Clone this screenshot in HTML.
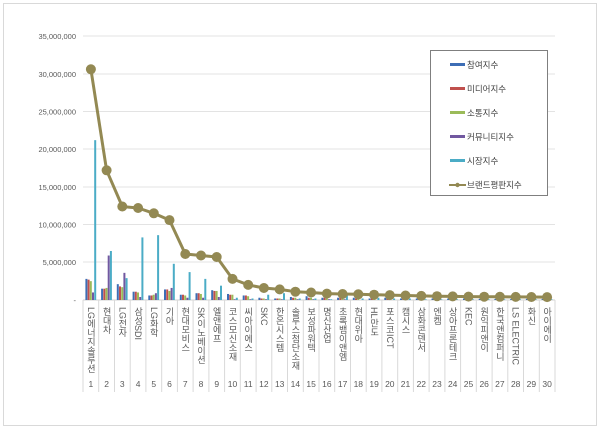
<!DOCTYPE html>
<html><head><meta charset="utf-8"><style>
body{margin:0;background:#fff;}
svg{display:block;font-family:"Liberation Sans","Noto Sans CJK KR",sans-serif;}
.yl{font-size:7.5px;fill:#595959;text-anchor:end;}
.cl{font-size:9px;fill:#595959;writing-mode:vertical-rl;}
.nl{font-size:8.5px;fill:#595959;text-anchor:middle;}
.lg{font-size:8.5px;fill:#404040;}
</style></head><body>
<svg width="600" height="429" viewBox="0 0 600 429">
<rect x="0" y="0" width="600" height="429" fill="#fff"/>
<rect x="3.5" y="3.5" width="593" height="422" fill="none" stroke="#d9d9d9"/>
<g stroke="#e3e3e3" stroke-width="1">
<line x1="83" x2="555" y1="36" y2="36"/><line x1="83" x2="555" y1="74" y2="74"/>
<line x1="83" x2="555" y1="111.5" y2="111.5"/><line x1="83" x2="555" y1="149" y2="149"/>
<line x1="83" x2="555" y1="187" y2="187"/><line x1="83" x2="555" y1="224.5" y2="224.5"/>
<line x1="83" x2="555" y1="262" y2="262"/>
</g>
<line x1="83" x2="555" y1="300" y2="300" stroke="#d0d0d0"/>
<g class="yl">
<text x="76" y="39">35,000,000</text><text x="76" y="77">30,000,000</text>
<text x="76" y="114.5">25,000,000</text><text x="76" y="152">20,000,000</text>
<text x="76" y="190">15,000,000</text><text x="76" y="227.5">10,000,000</text>
<text x="76" y="265">5,000,000</text><text x="76" y="303">-</text>
</g>
<g stroke="#d9d9d9">
<line x1="83" x2="83" y1="300" y2="392"/><line x1="98.7" x2="98.7" y1="300" y2="392"/><line x1="114.5" x2="114.5" y1="300" y2="392"/><line x1="130.2" x2="130.2" y1="300" y2="392"/><line x1="145.9" x2="145.9" y1="300" y2="392"/><line x1="161.7" x2="161.7" y1="300" y2="392"/><line x1="177.4" x2="177.4" y1="300" y2="392"/><line x1="193.1" x2="193.1" y1="300" y2="392"/><line x1="208.9" x2="208.9" y1="300" y2="392"/><line x1="224.6" x2="224.6" y1="300" y2="392"/><line x1="240.3" x2="240.3" y1="300" y2="392"/><line x1="256.1" x2="256.1" y1="300" y2="392"/><line x1="271.8" x2="271.8" y1="300" y2="392"/><line x1="287.5" x2="287.5" y1="300" y2="392"/><line x1="303.3" x2="303.3" y1="300" y2="392"/><line x1="319" x2="319" y1="300" y2="392"/><line x1="334.7" x2="334.7" y1="300" y2="392"/><line x1="350.5" x2="350.5" y1="300" y2="392"/><line x1="366.2" x2="366.2" y1="300" y2="392"/><line x1="381.9" x2="381.9" y1="300" y2="392"/><line x1="397.7" x2="397.7" y1="300" y2="392"/><line x1="413.4" x2="413.4" y1="300" y2="392"/><line x1="429.1" x2="429.1" y1="300" y2="392"/><line x1="444.9" x2="444.9" y1="300" y2="392"/><line x1="460.6" x2="460.6" y1="300" y2="392"/><line x1="476.3" x2="476.3" y1="300" y2="392"/><line x1="492.1" x2="492.1" y1="300" y2="392"/><line x1="507.8" x2="507.8" y1="300" y2="392"/><line x1="523.5" x2="523.5" y1="300" y2="392"/><line x1="539.3" x2="539.3" y1="300" y2="392"/><line x1="555" x2="555" y1="300" y2="392"/>
</g>
<defs>
<g id="z"></g>
</defs>
<!-- bars: b,r,g,p,c -->
<g>
<g transform="translate(90.9,300) scale(1,-7.54)"><rect x="-5.5" width="2" height="2.8" fill="#3d6db5"/><rect x="-3.3" width="2" height="2.7" fill="#c0504d"/><rect x="-1.1" width="2" height="2.5" fill="#9bbb59"/><rect x="1.1" width="2" height="1.0" fill="#7158a0"/><rect x="3.3" width="2" height="21.2" fill="#4bacc6"/></g>
<g transform="translate(106.6,300) scale(1,-7.54)"><rect x="-5.5" width="2" height="1.5" fill="#3d6db5"/><rect x="-3.3" width="2" height="1.5" fill="#c0504d"/><rect x="-1.1" width="2" height="1.6" fill="#9bbb59"/><rect x="1.1" width="2" height="5.9" fill="#7158a0"/><rect x="3.3" width="2" height="6.5" fill="#4bacc6"/></g>
<g transform="translate(122.3,300) scale(1,-7.54)"><rect x="-5.5" width="2" height="2.1" fill="#3d6db5"/><rect x="-3.3" width="2" height="1.8" fill="#c0504d"/><rect x="-1.1" width="2" height="1.7" fill="#9bbb59"/><rect x="1.1" width="2" height="3.6" fill="#7158a0"/><rect x="3.3" width="2" height="2.9" fill="#4bacc6"/></g>
<g transform="translate(138.1,300) scale(1,-7.54)"><rect x="-5.5" width="2" height="1.1" fill="#3d6db5"/><rect x="-3.3" width="2" height="1.1" fill="#c0504d"/><rect x="-1.1" width="2" height="1.0" fill="#9bbb59"/><rect x="1.1" width="2" height="0.4" fill="#7158a0"/><rect x="3.3" width="2" height="8.3" fill="#4bacc6"/></g>
<g transform="translate(153.8,300) scale(1,-7.54)"><rect x="-5.5" width="2" height="0.6" fill="#3d6db5"/><rect x="-3.3" width="2" height="0.6" fill="#c0504d"/><rect x="-1.1" width="2" height="0.7" fill="#9bbb59"/><rect x="1.1" width="2" height="0.9" fill="#7158a0"/><rect x="3.3" width="2" height="8.6" fill="#4bacc6"/></g>
<g transform="translate(169.5,300) scale(1,-7.54)"><rect x="-5.5" width="2" height="1.4" fill="#3d6db5"/><rect x="-3.3" width="2" height="1.4" fill="#c0504d"/><rect x="-1.1" width="2" height="1.2" fill="#9bbb59"/><rect x="1.1" width="2" height="1.6" fill="#7158a0"/><rect x="3.3" width="2" height="4.8" fill="#4bacc6"/></g>
<g transform="translate(185.3,300) scale(1,-7.54)"><rect x="-5.5" width="2" height="0.7" fill="#3d6db5"/><rect x="-3.3" width="2" height="0.7" fill="#c0504d"/><rect x="-1.1" width="2" height="0.6" fill="#9bbb59"/><rect x="1.1" width="2" height="0.3" fill="#7158a0"/><rect x="3.3" width="2" height="3.7" fill="#4bacc6"/></g>
<g transform="translate(201.0,300) scale(1,-7.54)"><rect x="-5.5" width="2" height="0.9" fill="#3d6db5"/><rect x="-3.3" width="2" height="0.9" fill="#c0504d"/><rect x="-1.1" width="2" height="0.8" fill="#9bbb59"/><rect x="1.1" width="2" height="0.3" fill="#7158a0"/><rect x="3.3" width="2" height="2.8" fill="#4bacc6"/></g>
<g transform="translate(216.7,300) scale(1,-7.54)"><rect x="-5.5" width="2" height="1.3" fill="#3d6db5"/><rect x="-3.3" width="2" height="1.2" fill="#c0504d"/><rect x="-1.1" width="2" height="1.2" fill="#9bbb59"/><rect x="1.1" width="2" height="0.4" fill="#7158a0"/><rect x="3.3" width="2" height="1.9" fill="#4bacc6"/></g>
<g transform="translate(232.5,300) scale(1,-7.54)"><rect x="-5.5" width="2" height="0.8" fill="#3d6db5"/><rect x="-3.3" width="2" height="0.7" fill="#c0504d"/><rect x="-1.1" width="2" height="0.7" fill="#9bbb59"/><rect x="1.1" width="2" height="0.1" fill="#7158a0"/><rect x="3.3" width="2" height="0.3" fill="#4bacc6"/></g>
<g transform="translate(248.2,300) scale(1,-7.54)"><rect x="-5.5" width="2" height="0.6" fill="#3d6db5"/><rect x="-3.3" width="2" height="0.6" fill="#c0504d"/><rect x="-1.1" width="2" height="0.5" fill="#9bbb59"/><rect x="1.1" width="2" height="0.1" fill="#7158a0"/><rect x="3.3" width="2" height="0.2" fill="#4bacc6"/></g>
<g transform="translate(263.9,300) scale(1,-7.54)"><rect x="-5.5" width="2" height="0.3" fill="#3d6db5"/><rect x="-3.3" width="2" height="0.2" fill="#c0504d"/><rect x="-1.1" width="2" height="0.2" fill="#9bbb59"/><rect x="1.1" width="2" height="0.1" fill="#7158a0"/><rect x="3.3" width="2" height="0.7" fill="#4bacc6"/></g>
<g transform="translate(279.7,300) scale(1,-7.54)"><rect x="-5.5" width="2" height="0.2" fill="#3d6db5"/><rect x="-3.3" width="2" height="0.2" fill="#c0504d"/><rect x="-1.1" width="2" height="0.2" fill="#9bbb59"/><rect x="1.1" width="2" height="0.1" fill="#7158a0"/><rect x="3.3" width="2" height="0.9" fill="#4bacc6"/></g>
<g transform="translate(295.4,300) scale(1,-7.54)"><rect x="-5.5" width="2" height="0.4" fill="#3d6db5"/><rect x="-3.3" width="2" height="0.3" fill="#c0504d"/><rect x="-1.1" width="2" height="0.3" fill="#9bbb59"/><rect x="1.1" width="2" height="0.1" fill="#7158a0"/><rect x="3.3" width="2" height="0.2" fill="#4bacc6"/></g>
<g transform="translate(311.1,300) scale(1,-7.54)"><rect x="-5.5" width="2" height="0.5" fill="#3d6db5"/><rect x="-3.3" width="2" height="0.3" fill="#c0504d"/><rect x="-1.1" width="2" height="0.3" fill="#9bbb59"/><rect x="1.1" width="2" height="0.1" fill="#7158a0"/><rect x="3.3" width="2" height="0.2" fill="#4bacc6"/></g>
<g transform="translate(326.9,300) scale(1,-7.54)"><rect x="-5.5" width="2" height="0.3" fill="#3d6db5"/><rect x="-3.3" width="2" height="0.3" fill="#c0504d"/><rect x="-1.1" width="2" height="0.3" fill="#9bbb59"/><rect x="1.1" width="2" height="0.1" fill="#7158a0"/><rect x="3.3" width="2" height="0.1" fill="#4bacc6"/></g>
<g transform="translate(342.6,300) scale(1,-7.54)"><rect x="-5.5" width="2" height="0.3" fill="#3d6db5"/><rect x="-3.3" width="2" height="0.3" fill="#c0504d"/><rect x="-1.1" width="2" height="0.3" fill="#9bbb59"/><rect x="1.1" width="2" height="0.1" fill="#7158a0"/><rect x="3.3" width="2" height="0.6" fill="#4bacc6"/></g>
<g transform="translate(358.3,300) scale(1,-7.54)"><rect x="-5.5" width="2" height="0.3" fill="#3d6db5"/><rect x="-3.3" width="2" height="0.2" fill="#c0504d"/><rect x="-1.1" width="2" height="0.2" fill="#9bbb59"/><rect x="3.3" width="2" height="0.2" fill="#4bacc6"/></g>
<g transform="translate(374.1,300) scale(1,-7.54)"><rect x="-5.5" width="2" height="0.2" fill="#3d6db5"/><rect x="-3.3" width="2" height="0.2" fill="#c0504d"/><rect x="-1.1" width="2" height="0.2" fill="#9bbb59"/><rect x="3.3" width="2" height="0.3" fill="#4bacc6"/></g>
<g transform="translate(389.8,300) scale(1,-7.54)"><rect x="-5.5" width="2" height="0.3" fill="#3d6db5"/><rect x="-3.3" width="2" height="0.2" fill="#c0504d"/><rect x="-1.1" width="2" height="0.2" fill="#9bbb59"/><rect x="3.3" width="2" height="0.2" fill="#4bacc6"/></g>
<g transform="translate(405.5,300) scale(1,-7.54)"><rect x="-5.5" width="2" height="0.2" fill="#3d6db5"/><rect x="-3.3" width="2" height="0.2" fill="#c0504d"/><rect x="-1.1" width="2" height="0.2" fill="#9bbb59"/><rect x="3.3" width="2" height="0.2" fill="#4bacc6"/></g>
<g transform="translate(421.3,300) scale(1,-7.54)"><rect x="-5.5" width="2" height="0.2" fill="#3d6db5"/><rect x="-3.3" width="2" height="0.2" fill="#c0504d"/><rect x="-1.1" width="2" height="0.2" fill="#9bbb59"/><rect x="3.3" width="2" height="0.1" fill="#4bacc6"/></g>
<g transform="translate(437.0,300) scale(1,-7.54)"><rect x="-5.5" width="2" height="0.2" fill="#3d6db5"/><rect x="-3.3" width="2" height="0.2" fill="#c0504d"/><rect x="-1.1" width="2" height="0.2" fill="#9bbb59"/><rect x="3.3" width="2" height="0.1" fill="#4bacc6"/></g>
<g transform="translate(452.7,300) scale(1,-7.54)"><rect x="-5.5" width="2" height="0.2" fill="#3d6db5"/><rect x="-3.3" width="2" height="0.15" fill="#c0504d"/><rect x="-1.1" width="2" height="0.15" fill="#9bbb59"/><rect x="3.3" width="2" height="0.1" fill="#4bacc6"/></g>
<g transform="translate(468.5,300) scale(1,-7.54)"><rect x="-5.5" width="2" height="0.2" fill="#3d6db5"/><rect x="-3.3" width="2" height="0.15" fill="#c0504d"/><rect x="-1.1" width="2" height="0.15" fill="#9bbb59"/><rect x="3.3" width="2" height="0.1" fill="#4bacc6"/></g>
<g transform="translate(484.2,300) scale(1,-7.54)"><rect x="-5.5" width="2" height="0.15" fill="#3d6db5"/><rect x="-3.3" width="2" height="0.15" fill="#c0504d"/><rect x="-1.1" width="2" height="0.15" fill="#9bbb59"/><rect x="3.3" width="2" height="0.1" fill="#4bacc6"/></g>
<g transform="translate(499.9,300) scale(1,-7.54)"><rect x="-5.5" width="2" height="0.15" fill="#3d6db5"/><rect x="-3.3" width="2" height="0.15" fill="#c0504d"/><rect x="-1.1" width="2" height="0.15" fill="#9bbb59"/><rect x="3.3" width="2" height="0.1" fill="#4bacc6"/></g>
<g transform="translate(515.7,300) scale(1,-7.54)"><rect x="-5.5" width="2" height="0.15" fill="#3d6db5"/><rect x="-3.3" width="2" height="0.15" fill="#c0504d"/><rect x="-1.1" width="2" height="0.15" fill="#9bbb59"/><rect x="3.3" width="2" height="0.1" fill="#4bacc6"/></g>
<g transform="translate(531.4,300) scale(1,-7.54)"><rect x="-5.5" width="2" height="0.15" fill="#3d6db5"/><rect x="-3.3" width="2" height="0.15" fill="#c0504d"/><rect x="-1.1" width="2" height="0.15" fill="#9bbb59"/><rect x="3.3" width="2" height="0.1" fill="#4bacc6"/></g>
<g transform="translate(547.1,300) scale(1,-7.54)"><rect x="-5.5" width="2" height="0.15" fill="#3d6db5"/><rect x="-3.3" width="2" height="0.15" fill="#c0504d"/><rect x="-1.1" width="2" height="0.15" fill="#9bbb59"/><rect x="3.3" width="2" height="0.1" fill="#4bacc6"/></g>
</g>
<!-- line -->
<polyline fill="none" stroke="#938953" stroke-width="3" stroke-linejoin="round" points="90.9,69.3 106.6,170.3 122.3,206.5 138.1,208 153.8,213.3 169.5,220.1 185.3,254 201.0,255.5 216.7,257 232.5,278.9 248.2,284.9 263.9,288 279.7,289.4 295.4,291.7 311.1,292.5 326.9,293.6 342.6,294 358.3,294.3 374.1,294.7 389.8,295.1 405.5,295.5 421.3,295.9 437.0,296.2 452.7,296.4 468.5,296.6 484.2,296.7 499.9,296.8 515.7,296.9 531.4,297 547.1,297.1"/>
<g fill="#938953">
<circle cx="90.9" cy="69.3" r="5"/><circle cx="106.6" cy="170.3" r="5"/><circle cx="122.3" cy="206.5" r="5"/><circle cx="138.1" cy="208" r="5"/><circle cx="153.8" cy="213.3" r="5"/><circle cx="169.5" cy="220.1" r="5"/><circle cx="185.3" cy="254" r="5"/><circle cx="201.0" cy="255.5" r="5"/><circle cx="216.7" cy="257" r="5"/><circle cx="232.5" cy="278.9" r="5"/><circle cx="248.2" cy="284.9" r="5"/><circle cx="263.9" cy="288" r="5"/><circle cx="279.7" cy="289.4" r="5"/><circle cx="295.4" cy="291.7" r="5"/><circle cx="311.1" cy="292.5" r="5"/><circle cx="326.9" cy="293.6" r="5"/><circle cx="342.6" cy="294" r="5"/><circle cx="358.3" cy="294.3" r="5"/><circle cx="374.1" cy="294.7" r="5"/><circle cx="389.8" cy="295.1" r="5"/><circle cx="405.5" cy="295.5" r="5"/><circle cx="421.3" cy="295.9" r="5"/><circle cx="437.0" cy="296.2" r="5"/><circle cx="452.7" cy="296.4" r="5"/><circle cx="468.5" cy="296.6" r="5"/><circle cx="484.2" cy="296.7" r="5"/><circle cx="499.9" cy="296.8" r="5"/><circle cx="515.7" cy="296.9" r="5"/><circle cx="531.4" cy="297" r="5"/><circle cx="547.1" cy="297.1" r="5"/>
</g>
<!-- category labels -->
<g class="cl">
<text x="90.9" y="307">LG에너지솔루션</text><text x="106.6" y="307">현대차</text><text x="122.3" y="307">LG전자</text><text x="138.1" y="307">삼성SDI</text><text x="153.8" y="307">LG화학</text><text x="169.5" y="307">기아</text><text x="185.3" y="307">현대모비스</text><text x="201.0" y="307">SK이노베이션</text><text x="216.7" y="307">엘앤에프</text><text x="232.5" y="307">코스모신소재</text><text x="248.2" y="307">씨아이에스</text><text x="263.9" y="307">SKC</text><text x="279.7" y="307">한온시스템</text><text x="295.4" y="307">솔루스첨단소재</text><text x="311.1" y="307">보성파워텍</text><text x="326.9" y="307">명신산업</text><text x="342.6" y="307">초록뱀이앤엠</text><text x="358.3" y="307">현대위아</text><text x="374.1" y="307">HL만도</text><text x="389.8" y="307">포스코ICT</text><text x="405.5" y="307">캠시스</text><text x="421.3" y="307">삼화콘덴서</text><text x="437.0" y="307">엔켐</text><text x="452.7" y="307">상아프론테크</text><text x="468.5" y="307">KEC</text><text x="484.2" y="307">원익피앤이</text><text x="499.9" y="307">한국앤컴퍼니</text><text x="515.7" y="307">LS ELECTRIC</text><text x="531.4" y="307">화신</text><text x="547.1" y="307">아이에이</text>
</g>
<g class="nl">
<text x="90.9" y="387">1</text><text x="106.6" y="387">2</text><text x="122.3" y="387">3</text><text x="138.1" y="387">4</text><text x="153.8" y="387">5</text><text x="169.5" y="387">6</text><text x="185.3" y="387">7</text><text x="201.0" y="387">8</text><text x="216.7" y="387">9</text><text x="232.5" y="387">10</text><text x="248.2" y="387">11</text><text x="263.9" y="387">12</text><text x="279.7" y="387">13</text><text x="295.4" y="387">14</text><text x="311.1" y="387">15</text><text x="326.9" y="387">16</text><text x="342.6" y="387">17</text><text x="358.3" y="387">18</text><text x="374.1" y="387">19</text><text x="389.8" y="387">20</text><text x="405.5" y="387">21</text><text x="421.3" y="387">22</text><text x="437.0" y="387">23</text><text x="452.7" y="387">24</text><text x="468.5" y="387">25</text><text x="484.2" y="387">26</text><text x="499.9" y="387">27</text><text x="515.7" y="387">28</text><text x="531.4" y="387">29</text><text x="547.1" y="387">30</text>
</g>
<!-- legend -->
<rect x="430.5" y="50.5" width="117" height="145" fill="#fff" stroke="#7f7f7f"/>
<rect x="450" y="63" width="15" height="3" fill="#3d6db5"/><text class="lg" x="467" y="68">참여지수</text>
<rect x="450" y="87" width="15" height="3" fill="#c0504d"/><text class="lg" x="467" y="92">미디어지수</text>
<rect x="450" y="111" width="15" height="3" fill="#9bbb59"/><text class="lg" x="467" y="116">소통지수</text>
<rect x="450" y="135" width="15" height="3" fill="#7158a0"/><text class="lg" x="467" y="140">커뮤니티지수</text>
<rect x="450" y="159" width="15" height="3" fill="#4bacc6"/><text class="lg" x="467" y="164">시장지수</text>
<line x1="449" x2="466" y1="185" y2="185" stroke="#938953" stroke-width="2"/><circle cx="457.5" cy="185" r="2.2" fill="#938953"/><text class="lg" x="467" y="188">브랜드평판지수</text>
</svg>
</body></html>
